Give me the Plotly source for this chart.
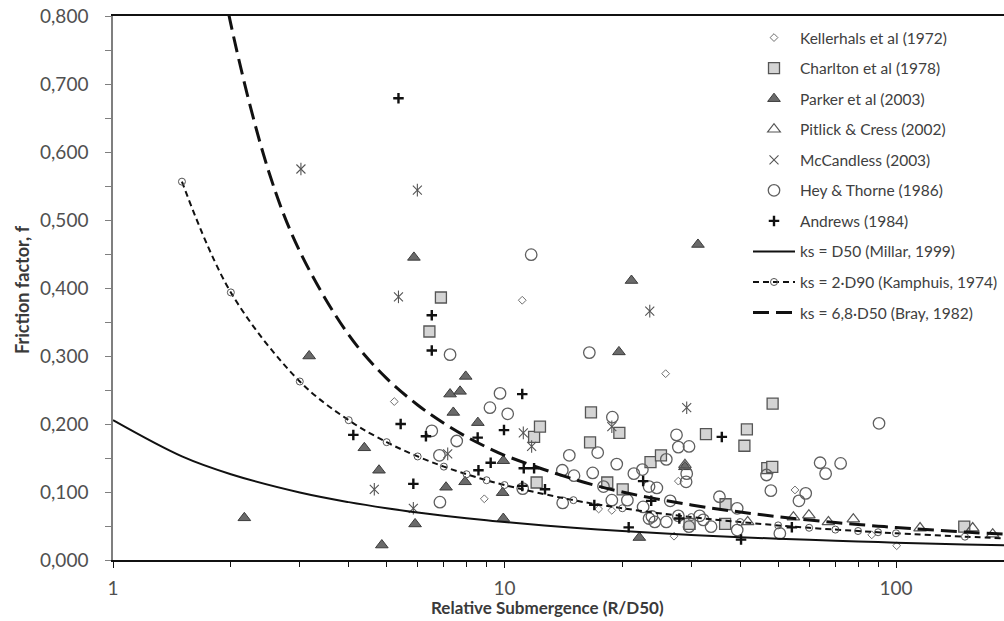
import plotly.graph_objects as go

# ---- Field data sets: relative submergence R/D50 and friction factor f ----
kellerhals_x = [5.23, 8.88, 11.1, 17.4, 18.8, 25.8, 27.1, 27.8, 55.2, 86.7, 100.4]
kellerhals_f = [0.233, 0.090, 0.382, 0.075, 0.073, 0.274, 0.035, 0.116, 0.103, 0.037, 0.021]

charlton_x = [6.43, 6.88, 11.9, 12.08, 12.32, 16.54, 16.63, 18.3, 19.65, 20.04, 23.6, 25.1,
              29.7, 32.7, 36.7, 36.6, 41.0, 41.6, 46.9, 48.3, 48.4, 149.4]
charlton_f = [0.336, 0.386, 0.181, 0.114, 0.196, 0.173, 0.217, 0.114, 0.187, 0.104, 0.144, 0.154,
              0.053, 0.185, 0.082, 0.053, 0.168, 0.192, 0.135, 0.137, 0.230, 0.049]

parker_x = [2.165, 3.17, 4.385, 4.78, 4.86, 5.87, 5.91, 7.09, 7.26, 7.40, 7.70, 7.93, 7.96,
            8.55, 9.89, 9.93, 9.93, 19.6, 21.1, 22.1, 28.9, 31.2]
parker_f = [0.062, 0.300, 0.165, 0.132, 0.022, 0.445, 0.053, 0.107, 0.244, 0.217, 0.248, 0.115, 0.270,
            0.202, 0.099, 0.146, 0.061, 0.306, 0.411, 0.033, 0.137, 0.464]

pitlick_x = [28.9, 41.8, 54.7, 59.9, 67.2, 77.8, 115.2, 157.0, 176.6]
pitlick_f = [0.140, 0.056, 0.063, 0.066, 0.056, 0.060, 0.047, 0.047, 0.038]

mccandless_x = [3.02, 4.65, 5.36, 5.85, 5.99, 7.16, 11.17, 11.73, 18.8, 23.5, 29.2]
mccandless_f = [0.575, 0.104, 0.387, 0.076, 0.544, 0.156, 0.187, 0.167, 0.196, 0.366, 0.224]

hey_thorne_x = [11.7, 16.47, 9.74, 7.26, 9.18, 10.19, 6.52, 7.55, 6.82, 6.84, 11.13, 14.64,
                14.05, 15.05, 14.08, 17.3, 16.8, 17.9, 18.86, 19.35, 18.8, 20.6, 21.4, 22.5,
                23.4, 22.6, 23.4, 24.2, 25.9, 26.5, 25.9, 27.5, 27.8, 29.6, 29.2, 29.1, 27.8,
                29.6, 64.0, 72.2, 90.5, 66.1, 46.7, 47.9, 58.8, 56.5, 35.4, 39.3, 32.2, 33.7,
                39.3, 50.5, 23.8, 24.5, 31.5]
hey_thorne_f = [0.449, 0.305, 0.245, 0.302, 0.224, 0.215, 0.190, 0.175, 0.154, 0.085, 0.105, 0.154,
                0.132, 0.124, 0.084, 0.158, 0.128, 0.108, 0.210, 0.141, 0.088, 0.088, 0.127, 0.133,
                0.108, 0.078, 0.061, 0.056, 0.056, 0.087, 0.148, 0.184, 0.166, 0.167, 0.127, 0.115, 0.065,
                0.049, 0.143, 0.142, 0.201, 0.127, 0.125, 0.102, 0.098, 0.087, 0.093, 0.076, 0.059, 0.049,
                0.044, 0.039, 0.064, 0.106, 0.065]

andrews_x = [4.11, 5.36, 5.43, 5.85, 6.30, 6.52, 6.52, 8.54, 8.58, 9.22, 9.97, 11.1, 11.1, 11.2,
             11.9, 12.69, 16.96, 20.76, 22.6, 23.7, 27.96, 35.9, 40.2, 54.2]
andrews_f = [0.184, 0.679, 0.200, 0.112, 0.182, 0.360, 0.308, 0.180, 0.132, 0.143, 0.191, 0.244, 0.109, 0.135,
             0.135, 0.104, 0.081, 0.048, 0.116, 0.087, 0.061, 0.181, 0.030, 0.048]

# ---- Resistance laws ----
millar_x = [1, 1.5, 2, 3, 4, 5, 6, 7, 8, 9, 10, 15, 20, 30, 40, 50, 60, 70, 80, 90, 100, 150, 200]
millar_f = [0.2056, 0.1523, 0.1261, 0.0993, 0.0851, 0.0761, 0.0698, 0.0651, 0.0613, 0.0583, 0.0558,
            0.0474, 0.0426, 0.0369, 0.0336, 0.0313, 0.0296, 0.0282, 0.0272, 0.0263, 0.0255, 0.0228, 0.0212]

kamphuis_x = [1.5, 2, 3, 4, 5, 6, 7, 8, 9, 10, 15, 20, 30, 40, 50, 60, 70, 80, 90, 100, 150, 200]
kamphuis_f = [0.5564, 0.3935, 0.2625, 0.2056, 0.1733, 0.1523, 0.1373, 0.1261, 0.1173, 0.1102, 0.0880,
              0.0761, 0.0631, 0.0558, 0.0509, 0.0474, 0.0447, 0.0426, 0.0408, 0.0393, 0.0343, 0.0313]

bray_x = [1.8, 2, 2.5, 3, 4, 5, 6, 7, 8, 9, 10, 15, 20, 30, 40, 50, 60, 70, 80, 90, 100, 150, 200]
bray_f = [0.936, 0.788, 0.571, 0.454, 0.331, 0.267, 0.228, 0.201, 0.181, 0.166, 0.154, 0.119, 0.100,
          0.081, 0.0705, 0.0636, 0.0588, 0.0551, 0.0522, 0.0498, 0.0478, 0.0411, 0.0372]

FONT = "Lato"
W, H = 1004, 621
ML, MR, MT, MB = 113, 0, 16, 61

fig = go.Figure()


def pts(name, xs, ys, marker, show=True, group=None):
    fig.add_trace(go.Scatter(
        x=xs, y=ys, mode="markers", name=name, marker=marker,
        showlegend=show, legendgroup=group or name, hoverinfo="x+y+name"))


pts("Kellerhals et al (1972)", kellerhals_x, kellerhals_f,
    dict(symbol="diamond-open", size=6, color="#6f6f6f", line=dict(width=1, color="#6f6f6f")))
pts("Charlton et al (1978)", charlton_x, charlton_f,
    dict(symbol="square", size=11, color="#d4d4d4", line=dict(width=1.3, color="#555555")))
pts("Parker et al (2003)", parker_x, parker_f,
    dict(symbol="triangle-up", size=11, color="#6a6a6a", line=dict(width=1, color="#3c3c3c")))
pts("Pitlick & Cress (2002)", pitlick_x, pitlick_f,
    dict(symbol="triangle-up-open", size=11, color="#555555", line=dict(width=1.2, color="#555555")))
pts("McCandless (2003)", mccandless_x, mccandless_f,
    dict(symbol="x-thin-open", size=9, color="#555555", line=dict(width=1.1, color="#555555")))
pts("McCandless (2003)", mccandless_x, mccandless_f,
    dict(symbol="line-ns-open", size=9, color="#555555", line=dict(width=1.1, color="#555555")),
    show=False, group="McCandless (2003)")
pts("Hey & Thorne (1986)", hey_thorne_x, hey_thorne_f,
    dict(symbol="circle-open", size=11.5, color="#5f5f5f", line=dict(width=1.3, color="#5f5f5f")))
pts("Andrews (1984)", andrews_x, andrews_f,
    dict(symbol="cross-thin-open", size=7.5, color="#111111", line=dict(width=2.4, color="#111111")))

fig.add_trace(go.Scatter(
    x=millar_x, y=millar_f, mode="lines", name="ks = D50 (Millar, 1999)",
    legendgroup="millar", line=dict(color="#111111", width=2, shape="spline")))
fig.add_trace(go.Scatter(
    x=kamphuis_x, y=kamphuis_f, mode="lines+markers", name="ks = 2·D90 (Kamphuis, 1974)",
    legendgroup="kamphuis", line=dict(color="#111111", width=2, dash="6px,4px", shape="spline"),
    marker=dict(symbol="circle-open", size=7, color="#555555", line=dict(width=1, color="#555555"))))
fig.add_trace(go.Scatter(
    x=bray_x, y=bray_f, mode="lines", name="ks = 6,8·D50 (Bray, 1982)",
    legendgroup="bray", line=dict(color="#111111", width=3, dash="16px,7px", shape="spline")))

plot_w = W - ML - MR
plot_h = H - MT - MB

fig.update_layout(
    width=W, height=H,
    margin=dict(l=ML, r=MR, t=MT, b=MB, pad=0, autoexpand=False),
    paper_bgcolor="white", plot_bgcolor="white",
    separators=",.",
    font=dict(family=FONT, color="#404040"),
    showlegend=True,
    legend=dict(
        x=(748 - ML) / plot_w, y=1 - (21 - MT) / plot_h, xanchor="left", yanchor="top",
        font=dict(family=FONT, size=15.5, color="#404040"),
        bgcolor="rgba(0,0,0,0)", borderwidth=0,
        traceorder="grouped", tracegroupgap=7.4, itemwidth=42,
    ),
    xaxis=dict(
        type="log", range=[0, plot_w / 391.5],
        tickmode="linear", tick0=0, dtick=1,
        ticks="outside", ticklen=6, tickwidth=1, tickcolor="#111111",
        showline=True, linecolor="#111111", linewidth=1.5, mirror=True,
        showgrid=False, zeroline=False,
        tickfont=dict(family=FONT, size=19, color="#505050"),
        ticklabelstandoff=4,
        minor=dict(ticks="outside", ticklen=5, tickwidth=1, tickcolor="#111111",
                   dtick="D1", showgrid=False),
    ),
    yaxis=dict(
        range=[0, 0.8], tickmode="linear", tick0=0, dtick=0.1, tickformat=".3f",
        ticks="outside", ticklen=6, tickwidth=1, tickcolor="#7f7f7f",
        showline=True, linecolor="#7f7f7f", linewidth=1.5,
        showgrid=False, zeroline=False,
        tickfont=dict(family=FONT, size=19, color="#505050"),
        ticklabelstandoff=13,
        minor=dict(ticks="outside", ticklen=6, tickwidth=1, tickcolor="#7f7f7f",
                   dtick=0.05, showgrid=False),
    ),
    annotations=[
        dict(text="<b>Relative Submergence (R/D50)</b>", xref="paper", yref="paper",
             x=(547 - ML) / plot_w, y=-(607 - 560) / plot_h, xanchor="center", yanchor="middle",
             showarrow=False, font=dict(family=FONT, size=17, color="#3a3a3a")),
        dict(text="<b>Friction factor, f</b>", xref="paper", yref="paper",
             x=(22 - ML) / plot_w, y=(560 - 290) / plot_h, xanchor="center", yanchor="middle",
             textangle=-90, showarrow=False, font=dict(family=FONT, size=18, color="#3a3a3a")),
    ],
)

fig.write_html("out.html")
